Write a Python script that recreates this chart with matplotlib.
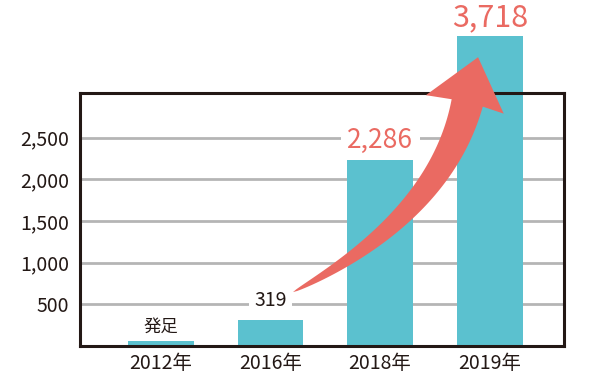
import numpy as np
import matplotlib.pyplot as plt
from matplotlib.patches import Polygon

plt.rcParams['font.family'] = ['Noto Sans CJK JP', 'DejaVu Sans']

# data
years = ['2012年', '2016年', '2018年', '2019年']
counts = [60, 319, 2286, 3718]
labels = ['発足', '319', '2,286', '3,718']
yticks = [500, 1000, 1500, 2000, 2500]
ytick_labels = ['500', '1,000', '1,500', '2,000', '2,500']

bar_color = '#5bc1cf'
red = '#ea6a62'
frame_color = '#231815'

fig = plt.figure(figsize=(5.92, 3.75), dpi=100)
ax = fig.add_axes([0.135, 0.077, 0.818, 0.675])

x = np.arange(len(years))
ax.bar(x, counts, width=0.6, color=bar_color, clip_on=False, zorder=2)

ax.set_xlim(-0.74, 3.68)
ax.set_ylim(0, 3035)
ax.set_yticks(yticks)
ax.set_yticklabels(ytick_labels, fontsize=14, color=frame_color)
ax.set_xticks(x)
ax.set_xticklabels(years, fontsize=14, color=frame_color)
ax.tick_params(length=0, axis='y', pad=8)
ax.tick_params(length=0, axis='x', pad=5)
ax.grid(axis='y', color='#b5b5b5', linewidth=2, zorder=0)
for s in ax.spines.values():
    s.set_linewidth(2.2)
    s.set_color(frame_color)

# value labels
styles = [
    dict(color=frame_color, fontsize=12.5, off=10),
    dict(color=frame_color, fontsize=14, off=14),
    dict(color=red, fontsize=19, off=11),
    dict(color=red, fontsize=22, off=13),
]
for i, (v, t, st) in enumerate(zip(counts, labels, styles)):
    ax.annotate(t, xy=(i, v), xytext=(0, st['off']), textcoords='offset points',
                ha='center', va='center', fontsize=st['fontsize'], color=st['color'],
                bbox=dict(boxstyle='square,pad=0.25', fc='white', ec='none') if i in (1, 2) else None,
                annotation_clip=False, zorder=4)

# curved growth arrow (tail near 2016 label, head into 2019 bar)
tail = (1.205, 648)
ctrl = (2.55, 1560)
base = (2.795, 2916)
fig.canvas.draw()
tr = ax.transData
P0, P1, P2 = (tr.transform(p) for p in (tail, ctrl, base))
t = np.linspace(0, 1, 80)[:, None]
curve = (1 - t) ** 2 * P0 + 2 * (1 - t) * t * P1 + t ** 2 * P2
deriv = 2 * (1 - t) * (P1 - P0) + 2 * t * (P2 - P1)
tang = deriv / np.linalg.norm(deriv, axis=1)[:, None]
norm = np.column_stack([-tang[:, 1], tang[:, 0]])
half = 16 * t[:, 0] ** 0.65
left = curve + norm * half[:, None]
right = curve - norm * half[:, None]
d = tang[-1]
n = norm[-1]
tip = P2 + d * 47
barb_l = P2 + n * 42 - d * 2
barb_r = P2 - n * 38 - d * 2
pts = np.vstack([left, [barb_l, tip, barb_r], right[::-1]])
pts = tr.inverted().transform(pts)
ax.add_patch(Polygon(pts, closed=True, fc=red, ec='none', clip_on=False, zorder=3))

fig.savefig('out.png', dpi=100)
